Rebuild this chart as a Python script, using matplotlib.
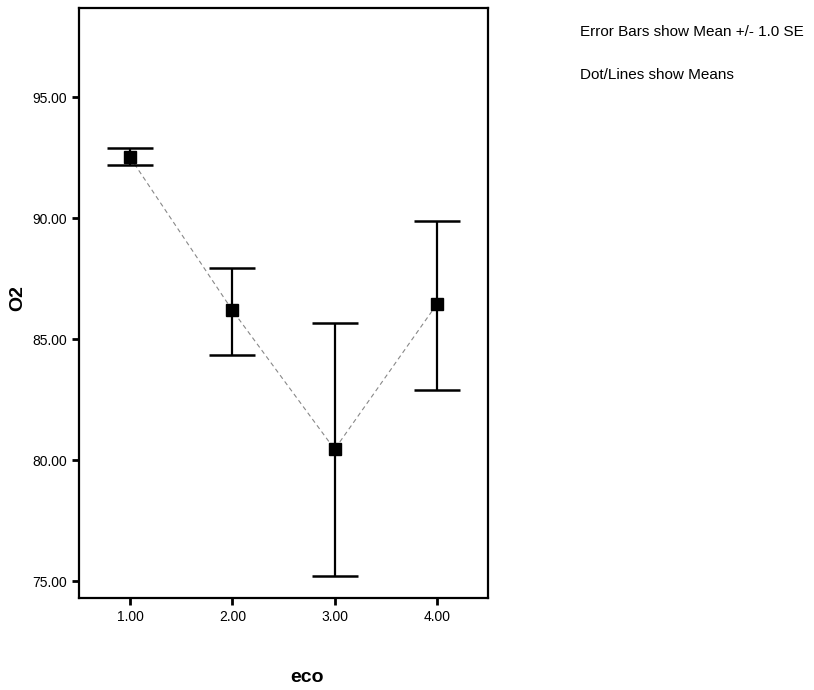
import numpy as np
import matplotlib.pyplot as plt

# group means and +/- 1 SE bounds
eco = [1.0, 2.0, 3.0, 4.0]
o2_mean = [92.52, 86.2, 80.45, 86.45]
o2_upper = [92.93, 87.93, 85.66, 89.9]
o2_lower = [92.19, 84.34, 75.2, 82.9]
xtick_labels = ["1.00", "2.00", "3.00", "4.00"]
ytick_vals = [75, 80, 85, 90, 95]
ytick_labels = ["75.00", "80.00", "85.00", "90.00", "95.00"]

plt.rcParams['font.family'] = ['Liberation Sans', 'DejaVu Sans']

fig = plt.figure(figsize=(8.14, 6.90), dpi=100)
ax = fig.add_axes([0.097, 0.1333, 0.5025, 0.8551])

mean = np.array(o2_mean)
yerr = [mean - np.array(o2_lower), np.array(o2_upper) - mean]

# dotted line joining the means
ax.plot(eco, o2_mean, color='#888888', lw=0.8, ls=(0, (4, 3)), zorder=1)
ax.errorbar(eco, o2_mean, yerr=yerr, fmt='none', ecolor='black',
            elinewidth=1.6, capsize=16.5, capthick=1.8, zorder=2)
ax.plot(eco, o2_mean, ls='none', marker='s', ms=8, color='black', zorder=3)

ax.set_xlim(0.5, 4.5)
ax.set_ylim(74.3, 98.7)
ax.set_xticks(eco)
ax.set_xticklabels(xtick_labels)
ax.set_yticks(ytick_vals)
ax.set_yticklabels(ytick_labels)
ax.tick_params(direction='out', length=5, width=2, labelsize=10)

for s in ax.spines.values():
    s.set_linewidth(1.6)

fig.text(18 / 814, 1 - 298 / 690, "O2", fontsize=14, fontweight='bold',
         rotation=90, ha='center', va='center')
fig.text(307 / 814, 1 - 677 / 690, "eco", fontsize=14, fontweight='bold',
         ha='center', va='center')

fig.text(0.713, 0.953, "Error Bars show Mean +/- 1.0 SE", fontsize=11, va='center')
fig.text(0.713, 0.891, "Dot/Lines show Means", fontsize=11, va='center')

fig.savefig("out.png", dpi=100)
